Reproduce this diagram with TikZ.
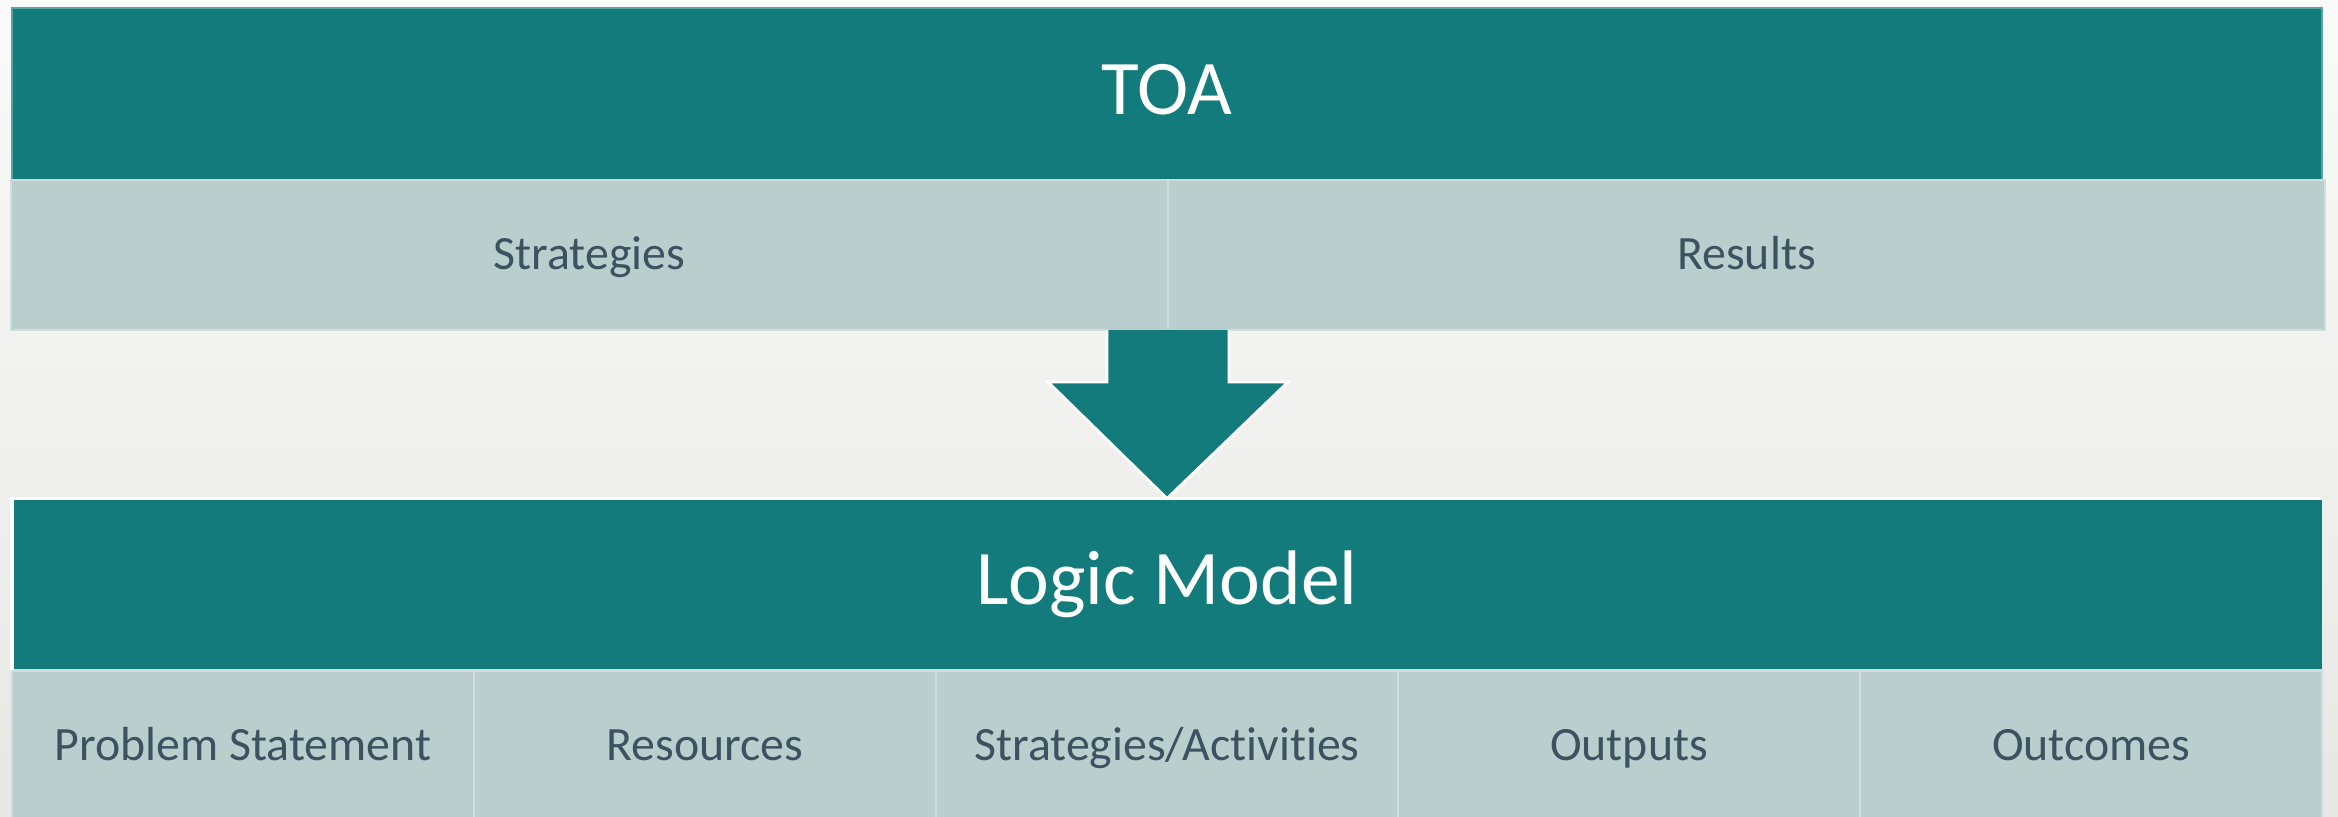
\documentclass[tikz,border=0pt]{standalone}
\usepackage{fontspec}
\setmainfont{Carlito}[Ligatures=NoCommon]
\usepackage{tikz}
\usetikzlibrary{positioning}

\definecolor{headteal}{HTML}{137B7B}
\definecolor{cellgrey}{HTML}{BACECD}
\definecolor{celledge}{HTML}{CFDDDC}
\definecolor{celltext}{HTML}{3E5160}
\definecolor{pagetop}{HTML}{FAFAFA}
\definecolor{pagebottom}{HTML}{E7E7E4}

\begin{document}
\begin{tikzpicture}[
    header/.style={fill=headteal, text=white, minimum width=23.1cm, minimum height=1.72cm,
        inner sep=0pt, outer sep=0pt, text height=1.15em, text depth=0pt,
        font=\fontsize{22}{26}\selectfont},
    cell/.style={fill=cellgrey, draw=celledge, line width=0.7pt, text=celltext,
        minimum height=1.5cm, inner sep=0pt, outer sep=0pt, text height=0.85em, text depth=0pt,
        font=\fontsize{13.6}{16}\selectfont},
    toacell/.style={cell, minimum width=11.57cm},
    lmcell/.style={cell, minimum width=4.62cm},
    bigarrow/.style={fill=headteal}
]
\useasboundingbox (0,0) rectangle (23.38,8.17);
% page background
\fill[top color=pagetop, bottom color=pagebottom] (0,0) rectangle (23.38,8.17);

% TOA block
\node[header, draw=headteal!70!white, line width=0.5pt] (toa) at (11.67,7.23) {TOA};
\node[toacell, anchor=north west] (strat) at ([xshift=-0.01cm]toa.south west) {Strategies};
\node[toacell, right=0pt of strat] (res) {Results};

% Logic model block
\node[header] (lm) at (11.67,2.325) {Logic Model};
\node[lmcell, anchor=north west] (prob) at (lm.south west) {Problem Statement};
\node[lmcell, right=0pt of prob] (resrc) {Resources};
\node[lmcell, right=0pt of resrc] (act) {Strategies/Activities};
\node[lmcell, right=0pt of act] (outp) {Outputs};
\node[lmcell, right=0pt of outp] (outc) {Outcomes};
\draw[white, line width=1pt] (lm.south west) -- (lm.north west) -- (lm.north east);

% block arrow from the TOA down to the logic model
\coordinate (split) at (strat.south east);
\fill[bigarrow] ([xshift=-0.61cm]split) -- ++(0,-0.52) -- ++(-0.59,0) -- (lm.north)
    -- ([xshift=1.2cm,yshift=-0.52cm]split) -- ([xshift=0.61cm,yshift=-0.52cm]split)
    -- ([xshift=0.61cm]split) -- cycle;
\draw[white, line width=0.8pt] ([xshift=-0.61cm]split) -- ++(0,-0.52) -- ++(-0.59,0) -- (lm.north)
    -- ([xshift=1.2cm,yshift=-0.52cm]split) -- ([xshift=0.61cm,yshift=-0.52cm]split)
    -- ([xshift=0.61cm]split);
\end{tikzpicture}
\end{document}
